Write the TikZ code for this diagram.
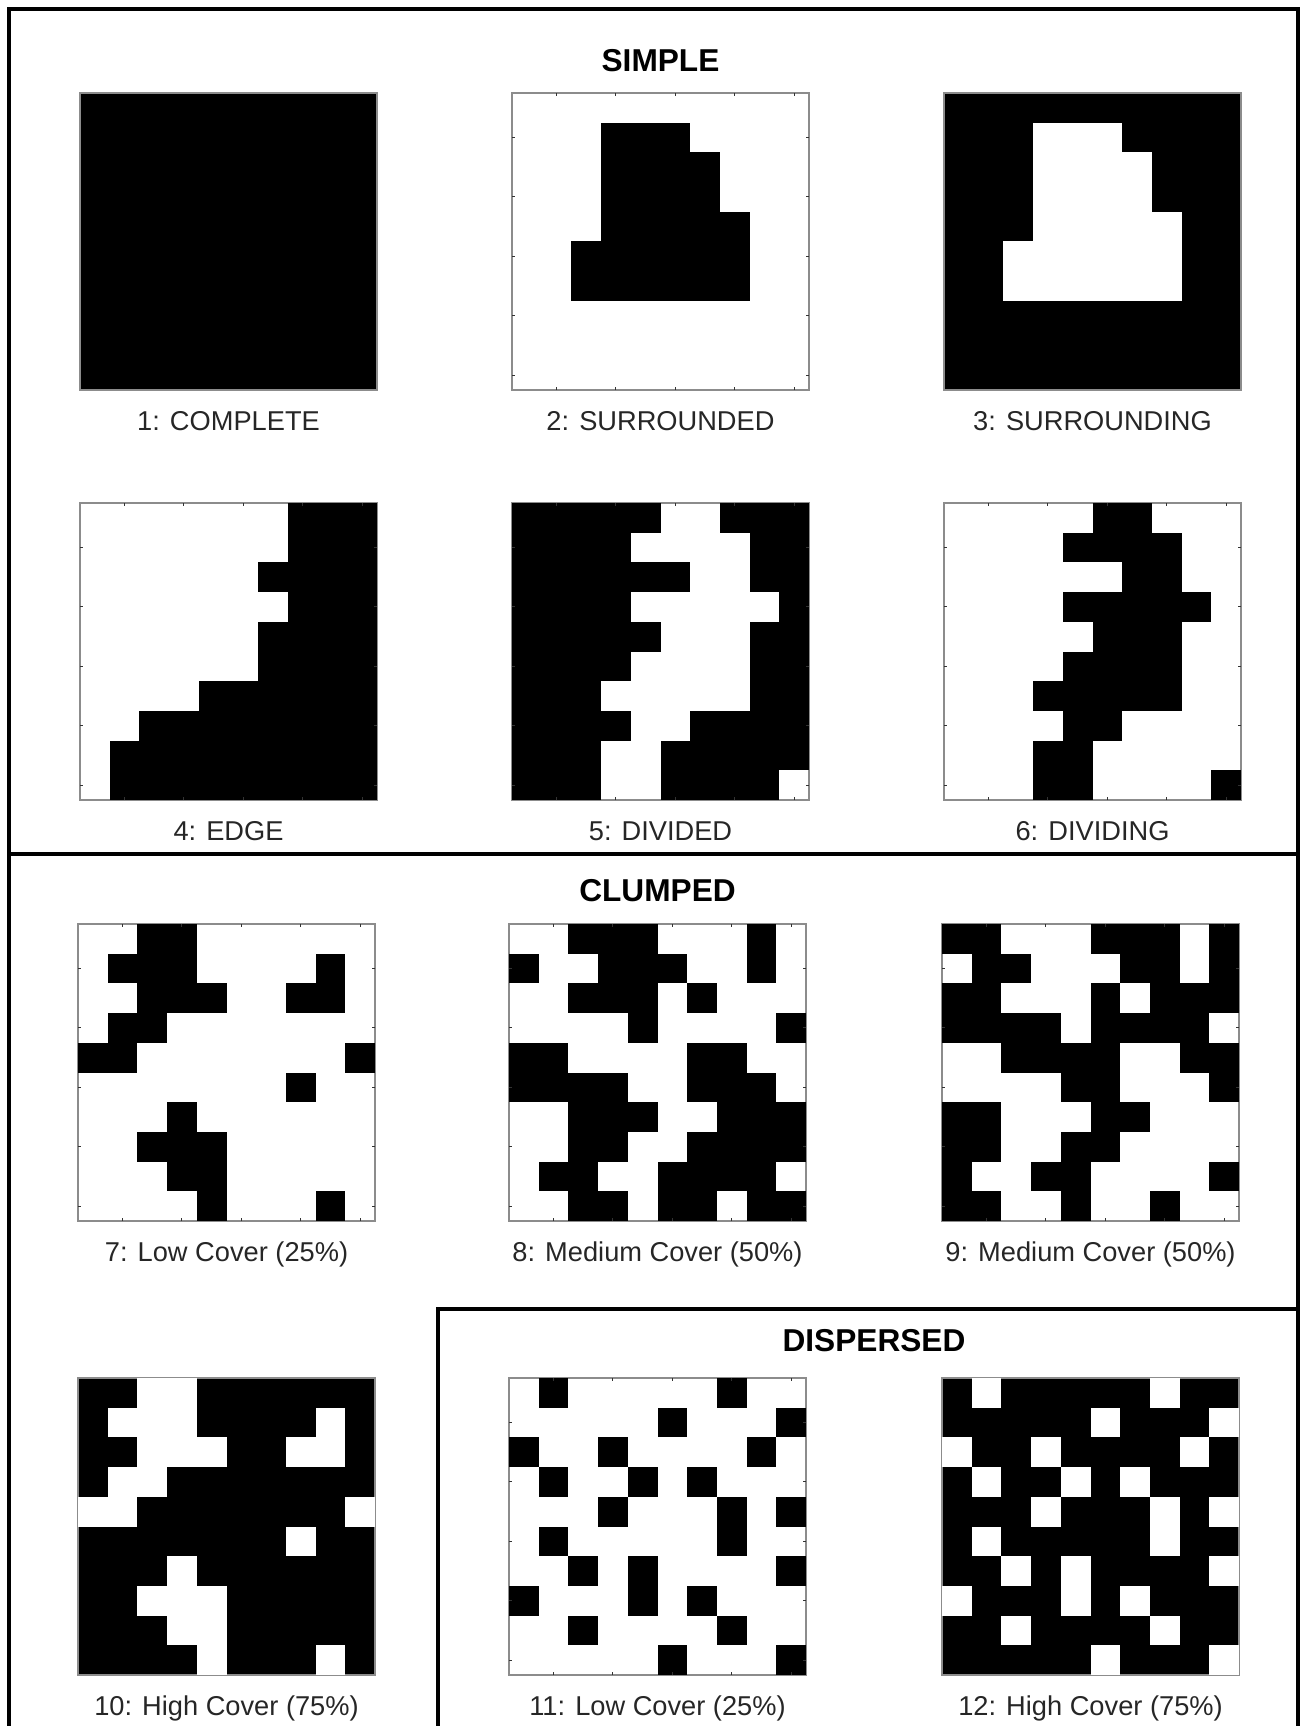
\documentclass[tikz,border=0pt]{standalone}
\usepackage{fontspec}
\setmainfont{Liberation Sans}
\usetikzlibrary{positioning, calc}
\definecolor{axisgrey}{HTML}{8C8C8C}

% cell runs: row/first column/last column (row 0 at the top)
\def\surroundedruns{1/3/5, 2/3/6, 3/3/6, 4/3/7, 5/2/7, 6/2/7}
\def\edgeruns{0/7/9, 1/7/9, 2/6/9, 3/7/9, 4/6/9, 5/6/9, 6/4/9, 7/2/9, 8/1/9, 9/1/9}
\def\dividedruns{0/0/4, 0/7/9, 1/0/3, 1/8/9, 2/0/5, 2/8/9, 3/0/3, 3/9/9, 4/0/4, 4/8/9,
  5/0/3, 5/8/9, 6/0/2, 6/8/9, 7/0/3, 7/6/9, 8/0/2, 8/5/9, 9/0/2, 9/5/8}
\def\dividingruns{0/5/6, 1/4/7, 2/6/7, 3/4/8, 4/5/7, 5/4/7, 6/3/7, 7/4/5, 8/3/4, 9/3/4, 9/9/9}
\def\clumplowruns{0/2/3, 1/1/3, 1/8/8, 2/2/4, 2/7/8, 3/1/2, 4/0/1, 4/9/9, 5/7/7, 6/3/3,
  7/2/4, 8/3/4, 9/4/4, 9/8/8}
\def\clumpmedAruns{0/2/4, 0/8/8, 1/0/0, 1/3/5, 1/8/8, 2/2/4, 2/6/6, 3/4/4, 3/9/9, 4/0/1,
  4/6/7, 5/0/3, 5/6/8, 6/2/4, 6/7/9, 7/2/3, 7/6/9, 8/1/2, 8/5/8, 9/2/3, 9/5/6, 9/8/9}
\def\clumpmedBruns{0/0/1, 0/5/7, 0/9/9, 1/1/2, 1/6/7, 1/9/9, 2/0/1, 2/5/5, 2/7/9, 3/0/3,
  3/5/8, 4/2/5, 4/8/9, 5/4/5, 5/9/9, 6/0/1, 6/5/6, 7/0/1, 7/4/5, 8/0/0, 8/3/4, 8/9/9,
  9/0/1, 9/4/4, 9/7/7}
\def\disperseruns{0/1/1, 0/7/7, 1/5/5, 1/9/9, 2/0/0, 2/3/3, 2/8/8, 3/1/1, 3/4/4, 3/6/6,
  4/3/3, 4/7/7, 4/9/9, 5/1/1, 5/7/7, 6/2/2, 6/4/4, 6/9/9, 7/0/0, 7/4/4, 7/6/6, 8/2/2,
  8/7/7, 9/5/5, 9/9/9}

% #1 grid node, #2 colour, #3 runs
\newcommand{\gridcells}[3]{%
  \foreach \rr/\ca/\cb in #3 {
    \fill[#2] ([shift={(\ca*29.7,\rr*29.7)}]#1.north west) rectangle ++({(\cb-\ca+1)*29.7},29.7);
  }}
\newcommand{\gridticks}[1]{%
  \foreach \t in {1.5,3.5,5.5,7.5,9.5} {
    \draw[tickmark] ([shift={(\t*29.7,0)}]#1.north west) -- ++(0,3);
    \draw[tickmark] ([shift={(\t*29.7,0)}]#1.south west) -- ++(0,-3);
    \draw[tickmark] ([shift={(0,\t*29.7)}]#1.north west) -- ++(3,0);
    \draw[tickmark] ([shift={(0,\t*29.7)}]#1.north east) -- ++(-3,0);
  }}

\begin{document}
\begin{tikzpicture}[
  x=0.2mm, y=-0.2mm,
  panel/.style={rectangle, draw=axisgrey, line width=0.6pt, fill=white, minimum size=59.4mm, inner sep=0pt, outer sep=0pt, anchor=north west},
  caption/.style={font=\fontsize{15.5}{18}\selectfont, text=black!85, inner sep=0pt, text height=11pt, text depth=4pt},
  heading/.style={font=\bfseries\fontsize{18}{21}\selectfont, inner sep=0pt, text height=13pt, text depth=0pt},
  frame/.style={line width=1.8pt, line cap=rect},
  tickmark/.style={draw=black!80, line width=0.6pt}
]
  \useasboundingbox (0,0) rectangle (1305,1726);

  % frame and section borders
  \coordinate (fbl) at (9,1726);
  \coordinate (ftl) at (9,9);
  \coordinate (ftr) at (1298,9);
  \coordinate (fbr) at (1298,1726);
  \coordinate (sl) at (9,854);
  \coordinate (sr) at (1298,854);
  \coordinate (dbl) at (438,1726);
  \coordinate (dtl) at (438,1309);
  \coordinate (dtr) at (1298,1309);
  \draw[frame] (fbl) -- (ftl) -- (ftr) -- (fbr);
  \draw[frame] (sl) -- (sr);
  \draw[frame] (dbl) -- (dtl) -- (dtr);

  % simple
  \node[panel, fill=black] (g1) at (80,93) {};
  \node[panel] (g2) at (512,93) {};
  \node[panel, fill=black] (g3) at (944,93) {};
  \node[panel] (g4) at (80,503) {};
  \node[panel] (g5) at (512,503) {};
  \node[panel] (g6) at (944,503) {};
  % clumped
  \node[panel] (g7) at (78,924) {};
  \node[panel] (g8) at (509,924) {};
  \node[panel] (g9) at (942,924) {};
  \node[panel, fill=black] (g10) at (78,1378) {};
  % dispersed
  \node[panel] (g11) at (509,1378) {};
  \node[panel, fill=black] (g12) at (942,1378) {};

  \gridcells{g2}{black}{\surroundedruns}
  \gridcells{g3}{white}{\surroundedruns}
  \gridcells{g4}{black}{\edgeruns}
  \gridcells{g5}{black}{\dividedruns}
  \gridcells{g6}{black}{\dividingruns}
  \gridcells{g7}{black}{\clumplowruns}
  \gridcells{g8}{black}{\clumpmedAruns}
  \gridcells{g9}{black}{\clumpmedBruns}
  \gridcells{g10}{white}{\clumplowruns}
  \gridcells{g11}{black}{\disperseruns}
  \gridcells{g12}{white}{\disperseruns}

  \foreach \g in {g2,g4,g5,g6,g7,g8,g9,g11} {
    \gridticks{\g}
  }

  % headings
  \node[heading, above=4.2mm of g2] (simple) {SIMPLE};
  \node[heading, above=4.4mm of g8] (clumped) {CLUMPED};
  \node[heading, above=5.2mm of {$(g11.north)!0.5!(g12.north)$}] (dispersed) {DISPERSED};

  % captions
  \node[caption, below=4.1mm of g1] (c1) {1: COMPLETE};
  \node[caption, below=4.1mm of g2] (c2) {2: SURROUNDED};
  \node[caption, below=4.1mm of g3] (c3) {3: SURROUNDING};
  \node[caption, below=4.1mm of g4] (c4) {4: EDGE};
  \node[caption, below=4.1mm of g5] (c5) {5: DIVIDED};
  \node[caption, below=4.1mm of g6] (c6) {6: DIVIDING};
  \node[caption, below=4.1mm of g7] (c7) {7: Low Cover (25\%)};
  \node[caption, below=4.1mm of g8] (c8) {8: Medium Cover (50\%)};
  \node[caption, below=4.1mm of g9] (c9) {9: Medium Cover (50\%)};
  \node[caption, below=4.1mm of g10] (c10) {10: High Cover (75\%)};
  \node[caption, below=4.1mm of g11] (c11) {11: Low Cover (25\%)};
  \node[caption, below=4.1mm of g12] (c12) {12: High Cover (75\%)};
\end{tikzpicture}
\end{document}
